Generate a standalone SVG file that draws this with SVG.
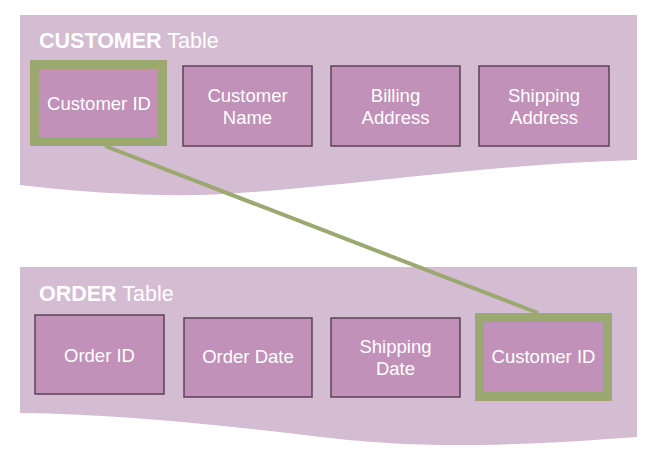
<svg xmlns="http://www.w3.org/2000/svg" width="656" height="454" viewBox="0 0 656 454">
<style>
.band{fill:#D4BCD3}
.node{fill:#C191B9;stroke:#5D4159;stroke-width:1.5}
.key{fill:#C191B9;stroke:#9BA870;stroke-width:9}
.t{fill:#FFFFFF;font-family:"Liberation Sans",Arial,Helvetica,sans-serif;font-size:18.5px;text-anchor:middle}
.title{fill:#FFFFFF;font-family:"Liberation Sans",Arial,Helvetica,sans-serif;font-size:21.5px}
.link{stroke:#9BA870;stroke-width:4;fill:none}
</style>
<g id="customer-table">
<path class="band" d="M20,15 H637 V160 C480,164 330,190 200,195 C140,196 80,192 20,185 Z"/>
<text class="title" x="39" y="48"><tspan font-weight="bold">CUSTOMER</tspan> Table</text>
</g>
<g id="order-table">
<path class="band" d="M20,267 H637 V437 C480,449 400,446 330,438 C220,425 120,414 20,413 Z"/>
<text class="title" x="39" y="301"><tspan font-weight="bold">ORDER</tspan> Table</text>
</g>
<g id="connectors">
<line class="link" x1="105" y1="146" x2="538" y2="313"/>
</g>
<g id="c-customer-id">
<rect class="key" x="34.5" y="64.5" width="128" height="77"/>
<text class="t" x="99" y="110">Customer ID</text>
</g>
<g id="c-customer-name">
<rect class="node" x="183" y="66" width="129" height="80"/>
<text class="t" x="247.5" y="102">Customer</text>
<text class="t" x="247.5" y="124">Name</text>
</g>
<g id="c-billing-address">
<rect class="node" x="331" y="66" width="129" height="80"/>
<text class="t" x="395.5" y="102">Billing</text>
<text class="t" x="395.5" y="124">Address</text>
</g>
<g id="c-shipping-address">
<rect class="node" x="479" y="66" width="130" height="80"/>
<text class="t" x="544" y="102">Shipping</text>
<text class="t" x="544" y="124">Address</text>
</g>
<g id="o-order-id">
<rect class="node" x="35" y="315" width="129" height="79"/>
<text class="t" x="99.5" y="362">Order ID</text>
</g>
<g id="o-order-date">
<rect class="node" x="184" y="318" width="128" height="79"/>
<text class="t" x="248" y="363">Order Date</text>
</g>
<g id="o-shipping-date">
<rect class="node" x="331" y="318" width="129" height="79"/>
<text class="t" x="395.5" y="353">Shipping</text>
<text class="t" x="395.5" y="375">Date</text>
</g>
<g id="o-customer-id">
<rect class="key" x="479.5" y="317.5" width="128" height="79"/>
<text class="t" x="543.5" y="363">Customer ID</text>
</g>
</svg>
